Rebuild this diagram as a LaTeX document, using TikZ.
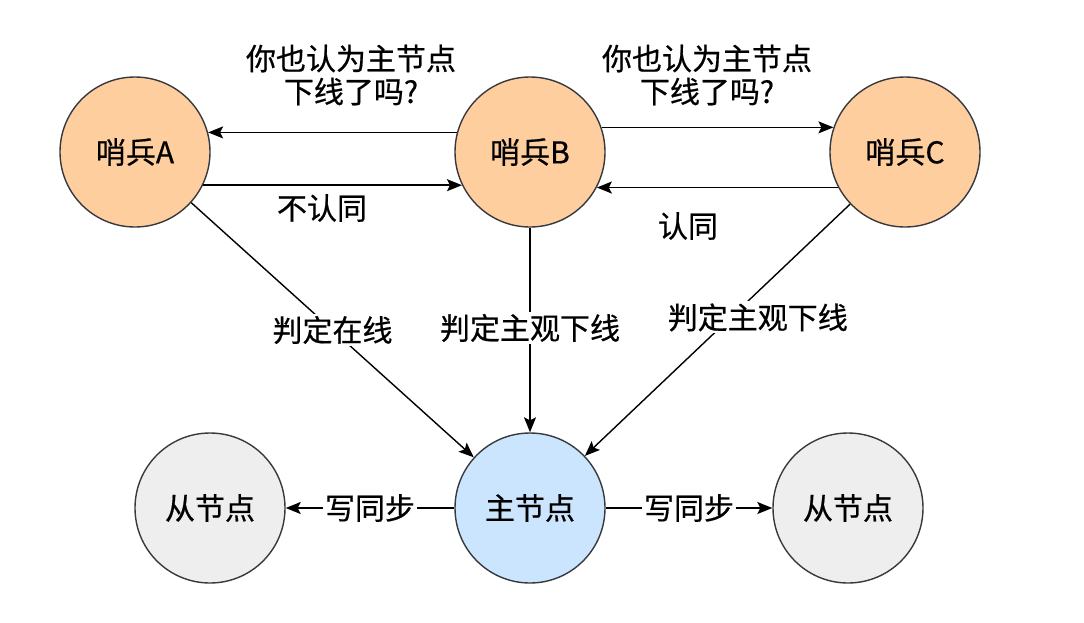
\documentclass[tikz,border=0pt]{standalone}
\usepackage{fontspec}
\newfontfamily\cjk[RawFeature={embolden=0.6}]{Noto Sans CJK SC}
\usetikzlibrary{arrows.meta}

\definecolor{sentinel}{HTML}{FFCE9F}
\definecolor{masterblue}{HTML}{CCE5FF}
\definecolor{slavegray}{HTML}{EEEEEE}
\definecolor{edge}{HTML}{36393D}

\tikzset{
  node/.style={circle, draw=edge, line width=1.4pt, minimum size=150pt, inner sep=0pt,
    font=\cjk\fontsize{30}{33}\selectfont},
  msg/.style={font=\cjk\fontsize{30}{33}\selectfont, align=center, inner sep=2pt},
  onlink/.style={msg, fill=white},
  link/.style={line width=1.4pt, -{Stealth[length=15pt,width=12pt,inset=3pt]}}
}

\begin{document}
\begin{tikzpicture}[x=1pt,y=-1pt]
\useasboundingbox (0,0) rectangle (1084,622);

% sentinels
\node[node, fill=sentinel] (sa) at (135,152) {哨兵A};
\node[node, fill=sentinel] (sb) at (530,152) {哨兵B};
\node[node, fill=sentinel] (sc) at (905,152) {哨兵C};

% data nodes
\node[node, fill=slavegray]  (slaveL) at (210,508) {从节点};
\node[node, fill=masterblue] (master) at (530,508) {主节点};
\node[node, fill=slavegray]  (slaveR) at (848,508) {从节点};

% asking each other
\draw[link] (sb.165) -- (sa.15);
\draw[link] (sa.-26) -- (sb.206);
\draw[link] (sb.19) -- (sc.161);
\draw[link] (sc.208) -- (sb.-28);

\node[msg] (askA) at (351,75) {你也认为主节点\\下线了吗?};
\node[msg] (askC) at (707,75) {你也认为主节点\\下线了吗?};
\node[msg] (noA)  at (322,208) {不认同};
\node[msg] (yesC) at (688,226) {认同};

% judgements
\draw[link] (sa) -- node[onlink, pos=0.5] (judgeA) {判定在线} (master);
\draw[link] (sb) -- node[onlink, pos=0.49] (judgeB) {判定主观下线} (master);
\draw[link] (sc) -- node[onlink, pos=0.45, xshift=27pt] (judgeC) {判定主观下线} (master);

% replication
\draw[link] (master) -- node[onlink] (syncL) {写同步} (slaveL);
\draw[link] (master) -- node[onlink] (syncR) {写同步} (slaveR);
\end{tikzpicture}
\end{document}
